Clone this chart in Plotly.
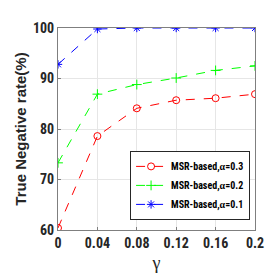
import plotly.graph_objects as go

gamma = [0, 0.04, 0.08, 0.12, 0.16, 0.2]
tn_alpha03 = [60.4, 78.6, 84.1, 85.7, 86.1, 86.9]
tn_alpha02 = [73.3, 86.9, 88.8, 90.1, 91.6, 92.5]
tn_alpha01 = [92.8, 99.8, 100, 100, 100, 100]
xticks = [0, 0.04, 0.08, 0.12, 0.16, 0.2]
xtick_labels = ["0", "0.04", "0.08", "0.12", "0.16", "0.2"]
yticks = [60, 70, 80, 90, 100]

FONT = "Roboto Condensed, Liberation Sans, Arial"

fig = go.Figure()
series = [
    (tn_alpha03, "MSR-based,<span style='font-family:Liberation Serif'>α</span>=0.3", "#ff0000", "circle-open"),
    (tn_alpha02, "MSR-based,<span style='font-family:Liberation Serif'>α</span>=0.2", "#00ff00", "cross-thin-open"),
    (tn_alpha01, "MSR-based,<span style='font-family:Liberation Serif'>α</span>=0.1", "#0000ff", "asterisk-open"),
]
for ys, name, color, sym in series:
    fig.add_trace(go.Scatter(
        x=gamma, y=ys, name=name, mode="lines+markers",
        line=dict(color=color, width=1, dash="dash"),
        marker=dict(symbol=sym, size=7, color=color, line=dict(color=color, width=1)),
    ))

fig.update_layout(
    width=273, height=273,
    margin=dict(l=39, r=26, t=20, b=46),
    plot_bgcolor="white", paper_bgcolor="white",
    font=dict(family=FONT, size=13, color="#262626"),
    showlegend=True,
    legend=dict(
        x=0.975, y=0.05, xanchor="right", yanchor="bottom",
        bgcolor="white", bordercolor="#262626", borderwidth=1,
        font=dict(family=FONT, size=10, color="#000000", weight="bold"),
        itemwidth=30, tracegroupgap=0,
    ),
)
fig.update_xaxes(
    range=[0, 0.2], tickvals=xticks, ticktext=xtick_labels,
    showgrid=True, gridcolor="#e6e6e6", gridwidth=1,
    showline=True, linecolor="#7f7f7f", linewidth=1, mirror=True,
    ticks="inside", ticklen=3, tickcolor="#7f7f7f",
    tickfont=dict(family=FONT, size=14, color="#262626", weight="bold"),
    title=dict(text="γ", font=dict(family="Liberation Serif", size=18, color="#262626"), standoff=6),
    zeroline=False,
)
fig.update_yaxes(
    range=[60, 100], tickvals=yticks,
    showgrid=True, gridcolor="#e6e6e6", gridwidth=1,
    showline=True, linecolor="#7f7f7f", linewidth=1, mirror=True,
    ticks="inside", ticklen=3, tickcolor="#7f7f7f",
    tickfont=dict(family=FONT, size=14, color="#262626", weight="bold"),
    title=dict(text="True Negative rate(%)", font=dict(family="Liberation Sans, Arial", size=15, color="#262626", weight="bold"), standoff=2),
    zeroline=False,
)
fig.write_html("out.html")
